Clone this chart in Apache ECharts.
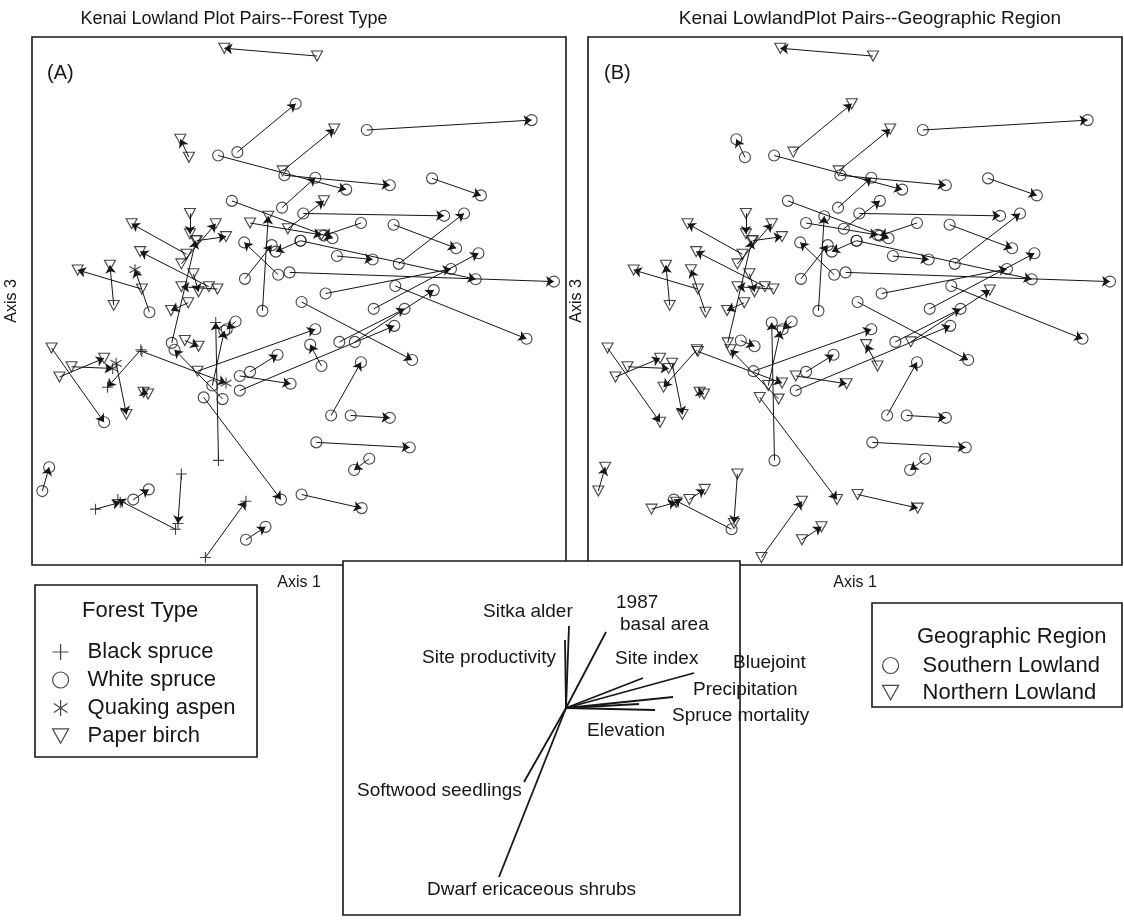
<!DOCTYPE html>
<html><head><meta charset="utf-8">
<script src="https://cdn.jsdelivr.net/npm/echarts@6/dist/echarts.min.js"></script>
<style>html,body{margin:0;padding:0;background:#fff}#c{width:1124px;height:920px}</style>
</head><body><div id="c"></div>
<script>
// ---- Plot pairs (ordination scores, Axis 1 / Axis 3) ----
const tailX = [83.5,60.3,98.0,46.2,73.5,54.7,74.0,73.3,117.0,58.7,96.3,79.5,64.0,67.6,75.0,78.7,72.2,62.5,75.5,89.3,105.8,107.3,86.0,100.0,106.3,79.0,78.7,48.7,61.0,90.0,94.5,84.8,61.0,64.0,87.6,93.3,83.3,98.7,79.0,50.5,54.8,53.0,59.8,45.0,56.0,41.2,46.5,44.0,48.5,45.5,52.0,54.5,47.5,46.0,32.5,24.3,34.7,6.2,8.5,12.0,25.0,32.2,32.5,33.0,3.5,19.0,42.3,30.0,44.0,51.0,62.8];
const tailY = [150.2,122.0,128.5,120.5,116.5,121.0,115.2,105.7,114.3,107.7,101.2,104.0,101.2,75.4,99.5,96.0,86.0,84.8,86.7,91.5,100.7,89.2,80.5,76.0,82.7,78.0,96.0,57.7,52.0,66.3,66.3,59.2,56.3,57.5,44.7,44.7,36.8,32.0,21.5,50.0,31.5,53.5,72.3,66.7,49.5,66.0,104.0,89.2,96.0,92.0,82.5,81.8,86.3,77.8,81.8,77.0,75.0,64.5,56.0,59.0,60.0,64.0,63.5,51.5,22.5,17.2,11.3,20.0,27.5,3.0,8.2];
const headX = [56.5,77.3,146.0,43.7,88.5,92.0,104.7,83.0,131.2,88.0,85.5,120.5,84.8,69.3,85.5,71.5,62.3,70.3,152.5,99.7,124.0,126.3,122.5,130.5,144.5,111.2,129.7,83.0,106.0,109.0,117.5,81.5,75.8,72.0,96.3,104.7,110.5,94.3,96.5,73.0,54.0,56.5,57.2,49.0,42.0,48.2,46.5,54.0,57.0,29.5,32.0,44.0,49.0,41.0,13.8,23.2,30.5,21.5,21.5,24.0,28.0,22.5,57.0,34.3,5.5,26.2,25.5,34.5,43.0,62.8,68.5];
const headY = [152.5,136.2,131.4,125.8,128.8,111.0,112.3,114.5,109.3,96.7,97.5,103.3,97.7,103.2,107.7,92.8,95.5,94.7,84.0,90.5,93.8,104.0,87.7,92.3,67.2,61.0,84.7,70.0,71.0,76.0,81.5,65.5,54.0,62.5,60.3,44.0,35.3,28.7,17.5,20.0,72.0,69.5,70.0,65.0,64.0,96.0,98.0,101.0,97.2,101.0,92.8,82.5,81.0,75.5,87.4,88.8,87.5,42.7,61.5,58.5,45.0,53.0,54.2,51.0,29.5,19.2,20.0,23.0,13.0,19.5,12.0];
// geographic region of each pair: S = Southern Lowland, N = Northern Lowland
const pairRegion = "NNSSNSSSSSSSSSSSSSSSSSSSSSSSSSNNNSSSSSNNSNSSNNNNNNNNNNNNNNNNNNNNNNSNNNN".split("");
// forest type at each end: B black spruce, W white spruce, Q quaking aspen, P paper birch
const tailForest = "PWWPPWWWWWWWPWPWWWWWWWWWWWWPWWWWWWWWWWWWBWWPWWPPPPPPPPPPWPPPQBBPWBBWBBW".split("");
const headForest = "PWWPPWWWWWWWPPPWWWWWWWWWWWWWWWWWWWWWWWWWBWWPWPPPPPPPPPPPQWPQPBQPWBBWBBW".split("");

const forestCodes = ["B","W","Q","P"];
const forestNames = ["Black spruce","White spruce","Quaking aspen","Paper birch"];
const regionCodes = ["S","N"];
const regionNames = ["Southern Lowland","Northern Lowland"];

// ---- Biplot vectors ----
const vecNames = ["Sitka alder","Site productivity","1987 basal area","Site index","Bluejoint","Precipitation","Spruce mortality","Elevation","Softwood seedlings","Dwarf ericaceous shrubs"];
const vecX = [0.03,-0.01,0.40,0.77,1.28,1.07,0.89,0.73,-0.42,-0.67];
const vecY = [0.82,0.68,0.76,0.30,0.35,0.11,-0.02,0.04,-0.74,-1.69];

const FONT = "'Liberation Sans', Arial, Helvetica, sans-serif";
const INK = "#161616";
const SYM = {
  B: 'path://M5,0L5,10M0,5L10,5',
  W: 'circle',
  Q: 'path://M5,0L5,10M0.8,2.2L9.2,7.8M0.8,7.8L9.2,2.2',
  P: 'path://M0,0L10,0L5,9Z'
};
const SIZE = {B: 11, W: 11, Q: 11, P: [11, 10]};
const hollow = {color: 'rgba(0,0,0,0)', borderColor: INK, borderWidth: 1.1};

const n = tailX.length;
const pairLines = [];
for (let i = 0; i < n; i++) pairLines.push({coords: [[tailX[i], tailY[i]], [headX[i], headY[i]]]});

function forestPoints(code) {
  const d = [];
  for (let i = 0; i < n; i++) {
    if (tailForest[i] === code) d.push([tailX[i], tailY[i]]);
    if (headForest[i] === code) d.push([headX[i], headY[i]]);
  }
  return d;
}
function regionPoints(code) {
  const d = [];
  for (let i = 0; i < n; i++) if (pairRegion[i] === code) { d.push([tailX[i], tailY[i]]); d.push([headX[i], headY[i]]); }
  return d;
}

const panelX = {type: 'value', min: 0.5, max: 156, show: true, name: 'Axis 1', nameLocation: 'middle', nameGap: 10,
  nameTextStyle: {fontFamily: FONT, fontSize: 16, color: INK, verticalAlign: 'top'},
  axisLine: {show: false}, axisTick: {show: false}, axisLabel: {show: false}, splitLine: {show: false}};
function panelY(gap) {
  return {type: 'value', min: 0.8, max: 155.8, show: true, name: 'Axis 3', nameLocation: 'middle', nameGap: gap, nameRotate: 90,
    nameTextStyle: {fontFamily: FONT, fontSize: 16, color: INK},
    axisLine: {show: false}, axisTick: {show: false}, axisLabel: {show: false}, splitLine: {show: false}};
}

const series = [];
series.push({type: 'lines', coordinateSystem: 'cartesian2d', xAxisIndex: 0, yAxisIndex: 0, symbol: ['none', 'arrow'], symbolSize: 8,
  lineStyle: {color: INK, width: 1, opacity: 1}, data: pairLines, silent: true, z: 2});
series.push({type: 'lines', coordinateSystem: 'cartesian2d', xAxisIndex: 1, yAxisIndex: 1, symbol: ['none', 'arrow'], symbolSize: 8,
  lineStyle: {color: INK, width: 1, opacity: 1}, data: pairLines, silent: true, z: 2});
forestCodes.forEach((c, k) => series.push({type: 'scatter', name: forestNames[k], xAxisIndex: 0, yAxisIndex: 0,
  symbol: SYM[c], symbolSize: SIZE[c], itemStyle: hollow, data: forestPoints(c), z: 3, silent: true}));
regionCodes.forEach((c, k) => series.push({type: 'scatter', name: regionNames[k], xAxisIndex: 1, yAxisIndex: 1,
  symbol: c === 'S' ? SYM.W : SYM.P, symbolSize: c === 'S' ? SIZE.W : SIZE.P, itemStyle: hollow, data: regionPoints(c), z: 3, silent: true}));
series.push({type: 'lines', coordinateSystem: 'cartesian2d', xAxisIndex: 2, yAxisIndex: 2, symbol: 'none',
  lineStyle: {color: INK, width: 1.8, opacity: 1}, z: 6, silent: true,
  data: vecNames.map((nm, i) => ({name: nm, coords: [[0, 0], [vecX[i], vecY[i]]]}))});

function txt(t, x, y, size, align) {
  return {type: 'text', z: 100, style: {text: t, x: x, y: y, font: size + 'px ' + FONT, fill: INK,
    textAlign: align || 'left', textVerticalAlign: 'middle', align: align || 'left', verticalAlign: 'middle'}};
}

const option = {
  animation: false,
  backgroundColor: '#fff',
  title: [
    {text: 'Kenai Lowland Plot Pairs--Forest Type', left: 229, top: 5, textAlign: 'center',
      textStyle: {fontFamily: FONT, fontSize: 18, fontWeight: 'normal', color: INK}},
    {text: 'Kenai LowlandPlot Pairs--Geographic Region', left: 865, top: 4, textAlign: 'center',
      textStyle: {fontFamily: FONT, fontSize: 19, fontWeight: 'normal', color: INK}}
  ],
  grid: [
    {left: 32, top: 37, width: 534, height: 528, show: true, borderColor: INK, borderWidth: 1.6, backgroundColor: '#fff', z: 0},
    {left: 588, top: 37, width: 534, height: 528, show: true, borderColor: INK, borderWidth: 1.6, backgroundColor: '#fff', z: 0},
    {left: 343, top: 561, width: 397, height: 354, show: true, borderColor: INK, borderWidth: 1.6, backgroundColor: '#fff', z: 5}
  ],
  xAxis: [panelX, Object.assign({}, panelX, {gridIndex: 1}),
    {type: 'value', gridIndex: 2, min: -2.23, max: 1.74, show: false}],
  yAxis: [panelY(12), Object.assign(panelY(3), {gridIndex: 1}),
    {type: 'value', gridIndex: 2, min: -2.07, max: 1.47, show: false}],
  legend: [
    {data: forestNames, orient: 'vertical', left: 47, top: 633, itemWidth: 16, itemHeight: 16, itemGap: 0, selectedMode: false,
      itemStyle: {color: 'rgba(0,0,0,0)', borderColor: INK, borderWidth: 1.2},
      textStyle: {fontFamily: FONT, fontSize: 22, color: INK, lineHeight: 28, padding: [0, 0, 0, 14]}},
    {data: regionNames, orient: 'vertical', left: 877, top: 647, itemWidth: 16, itemHeight: 16, itemGap: 0, selectedMode: false,
      itemStyle: {color: 'rgba(0,0,0,0)', borderColor: INK, borderWidth: 1.2},
      textStyle: {fontFamily: FONT, fontSize: 22, color: INK, lineHeight: 27, padding: [0, 0, 0, 19]}}
  ],
  graphic: [
    {type: 'rect', z: 1, shape: {x: 35, y: 585, width: 222, height: 172}, style: {fill: 'none', stroke: INK, lineWidth: 1.6}},
    {type: 'rect', z: 1, shape: {x: 872, y: 603, width: 250, height: 104}, style: {fill: 'none', stroke: INK, lineWidth: 1.6}},
    txt('Forest Type', 82, 611, 22),
    txt('Geographic Region', 917, 637, 22),
    txt('(A)', 47, 73, 20),
    txt('(B)', 604, 73, 20),
    txt('Sitka alder', 483, 612, 19),
    txt('1987', 616, 603, 19),
    txt('basal area', 620, 625, 19),
    txt('Site productivity', 422, 658, 19),
    txt('Site index', 615, 659, 19),
    txt('Bluejoint', 733, 663, 19),
    txt('Precipitation', 693, 690, 19),
    txt('Spruce mortality', 672, 716, 19),
    txt('Elevation', 587, 731, 19),
    txt('Softwood seedlings', 357, 791, 19),
    txt('Dwarf ericaceous shrubs', 427, 890, 19)
  ],
  series: series
};
const chart = echarts.init(document.getElementById('c'), null, {renderer: 'canvas'});
chart.setOption(option);
</script>
</body></html>
